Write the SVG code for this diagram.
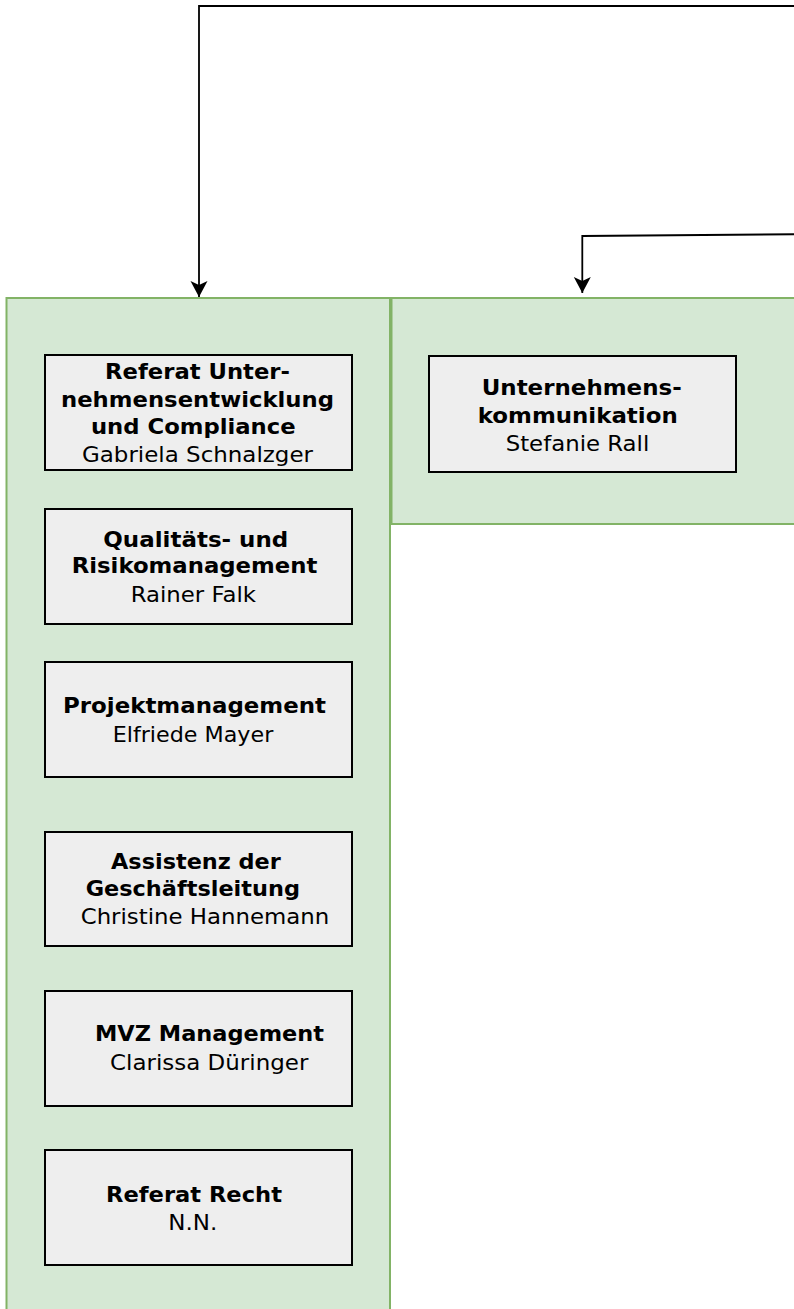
<svg xmlns="http://www.w3.org/2000/svg" width="794" height="1309" viewBox="0 0 794 1309">
<style>
.cont{fill:#d5e8d4;stroke:#82b366;stroke-width:2}
.box{fill:#eeeeee;stroke:#000;stroke-width:2}
.t{font-family:"DejaVu Sans",Verdana,sans-serif;font-size:22px;fill:#000;text-anchor:middle}
.b{font-weight:bold}
.edge{fill:none;stroke:#000;stroke-width:1.8}
</style>
<defs>
<marker id="arr" markerUnits="userSpaceOnUse" markerWidth="20" markerHeight="20" refX="16" refY="8.5" orient="auto" viewBox="0 0 20 17">
<path d="M16,8.5 L0,0 L4,8.5 L0,17 Z" fill="#000"/>
</marker>
</defs>
<rect width="794" height="1309" fill="#fff"/>
<g id="container-left"><rect class="cont" x="6.5" y="298" width="383.5" height="1030"/></g>
<g id="container-right"><rect class="cont" x="391.5" y="298" width="420" height="226"/></g>
<g id="connectors">
<path class="edge" d="M800,6 L199,6 L199,297" marker-end="url(#arr)"/>
<path class="edge" d="M800,234.2 L582.3,236 L582.3,293" marker-end="url(#arr)"/>
</g>
<g id="node-ue">
<rect class="box" x="45" y="355" width="307" height="115"/>
<text class="t b" x="197.5" y="379" textLength="185" lengthAdjust="spacingAndGlyphs">Referat Unter-</text>
<text class="t b" x="197.5" y="406.5" textLength="273" lengthAdjust="spacingAndGlyphs">nehmensentwicklung</text>
<text class="t b" x="193.3" y="434" textLength="204.7" lengthAdjust="spacingAndGlyphs">und Compliance</text>
<text class="t" x="197.5" y="461.5" textLength="231" lengthAdjust="spacingAndGlyphs">Gabriela Schnalzger</text>
</g>
<g id="node-qr">
<rect class="box" x="45" y="509" width="307" height="115"/>
<text class="t b" x="195.8" y="546.5" textLength="185" lengthAdjust="spacingAndGlyphs">Qualitäts- und</text>
<text class="t b" x="194.5" y="573" textLength="245.6" lengthAdjust="spacingAndGlyphs">Risikomanagement</text>
<text class="t" x="193.3" y="601.5" textLength="125.3" lengthAdjust="spacingAndGlyphs">Rainer Falk</text>
</g>
<g id="node-pm">
<rect class="box" x="45" y="662" width="307" height="115"/>
<text class="t b" x="194.5" y="713" textLength="263" lengthAdjust="spacingAndGlyphs">Projektmanagement</text>
<text class="t" x="193" y="742" textLength="160.6" lengthAdjust="spacingAndGlyphs">Elfriede Mayer</text>
</g>
<g id="node-ag">
<rect class="box" x="45" y="832" width="307" height="114"/>
<text class="t b" x="195.9" y="869" textLength="169.7" lengthAdjust="spacingAndGlyphs">Assistenz der</text>
<text class="t b" x="192.8" y="896" textLength="214.3" lengthAdjust="spacingAndGlyphs">Geschäftsleitung</text>
<text class="t" x="205" y="924" textLength="248.6" lengthAdjust="spacingAndGlyphs">Christine Hannemann</text>
</g>
<g id="node-mvz">
<rect class="box" x="45" y="991" width="307" height="115"/>
<text class="t b" x="209.5" y="1041" textLength="229" lengthAdjust="spacingAndGlyphs">MVZ Management</text>
<text class="t" x="209.2" y="1070" textLength="198.3" lengthAdjust="spacingAndGlyphs">Clarissa Düringer</text>
</g>
<g id="node-rr">
<rect class="box" x="45" y="1150" width="307" height="115"/>
<text class="t b" x="194" y="1201.5" textLength="176" lengthAdjust="spacingAndGlyphs">Referat Recht</text>
<text class="t" x="192.8" y="1229.5" textLength="49" lengthAdjust="spacingAndGlyphs">N.N.</text>
</g>
<g id="node-uk">
<rect class="box" x="429" y="356" width="307" height="116"/>
<text class="t b" x="581.7" y="395" textLength="200" lengthAdjust="spacingAndGlyphs">Unternehmens-</text>
<text class="t b" x="577.7" y="422.5" textLength="200" lengthAdjust="spacingAndGlyphs">kommunikation</text>
<text class="t" x="577.5" y="450.5" textLength="143.6" lengthAdjust="spacingAndGlyphs">Stefanie Rall</text>
</g>
</svg>
